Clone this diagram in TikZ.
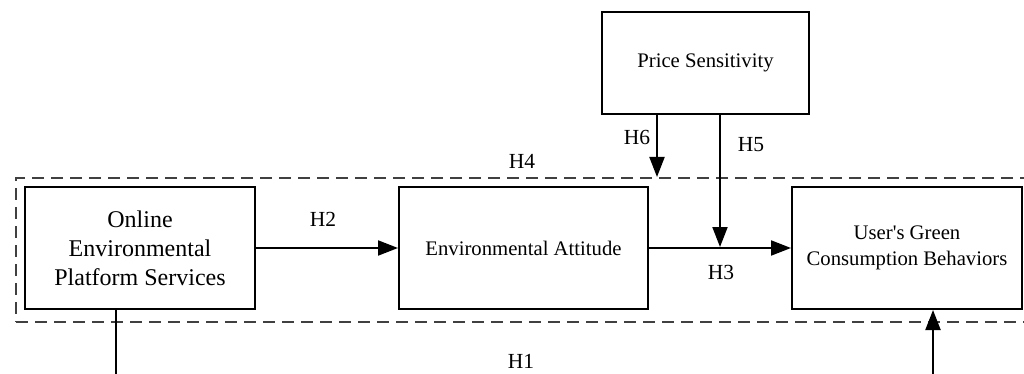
\documentclass[tikz,border=0pt]{standalone}
\usepackage{fontspec}
\setmainfont{Liberation Serif}
\usetikzlibrary{arrows.meta}
\definecolor{dashgray}{HTML}{404040}
\tikzset{
  box/.style={draw=black, line width=2pt, fill=white, align=center, inner sep=0pt,
    font=\fontsize{20.7pt}{26pt}\selectfont},
  bigbox/.style={box, font=\fontsize{24pt}{29pt}\selectfont},
  conn/.style={draw=black, line width=2pt},
  arr/.style={conn, -{Triangle[length=20pt,width=15pt]}},
  hlabel/.style={inner sep=0pt, font=\fontsize{21.5pt}{26pt}\selectfont},
  groupbox/.style={draw=dashgray, line width=2.2pt, dash pattern=on 12pt off 7pt, inner sep=0pt}
}
\begin{document}
\begin{tikzpicture}[x=1pt,y=-1pt]
\useasboundingbox (0,0) rectangle (1024,374);
\clip (0,0) rectangle (1024,374);
% dashed grouping box
\node[groupbox, minimum width=1025pt, minimum height=144pt, anchor=north west] (group) at (15,177) {};
% boxes
\node[bigbox, minimum width=230pt, minimum height=122pt, anchor=north west] (online) at (24,186)
  {Online\\Environmental\\Platform Services};
\node[box, minimum width=249pt, minimum height=122pt, anchor=north west] (attitude) at (398,186)
  {Environmental Attitude};
\node[box, minimum width=230pt, minimum height=122pt, anchor=north west] (green) at (791,186)
  {User\textquotesingle s Green\\Consumption Behaviors};
\node[box, minimum width=207pt, minimum height=102pt, anchor=north west] (price) at (601,11)
  {Price Sensitivity};
% helper coordinates
\coordinate (h6x) at (657,177);
\coordinate (h5x) at (720,247);
\coordinate (h1a) at (116,400);
\coordinate (h1b) at (933,400);
% connectors
\draw[arr] (online.east) -- (attitude.west);
\draw[arr] (attitude.east) -- (green.west);
\draw[arr] (price.south -| h6x) -- (h6x);
\draw[arr] (price.south -| h5x) -- (h5x);
\draw[conn] (online.south -| h1a) -- (h1a) -- (h1b);
\draw[arr] (h1b) -- (green.south -| h1b);
% labels
\node[hlabel] (lh2) at (323,219) {H2};
\node[hlabel] (lh3) at (721,272) {H3};
\node[hlabel] (lh4) at (522,161) {H4};
\node[hlabel] (lh5) at (751,145) {H5};
\node[hlabel] (lh6) at (637,137) {H6};
\node[hlabel] (lh1) at (521,361) {H1};
\end{tikzpicture}
\end{document}
